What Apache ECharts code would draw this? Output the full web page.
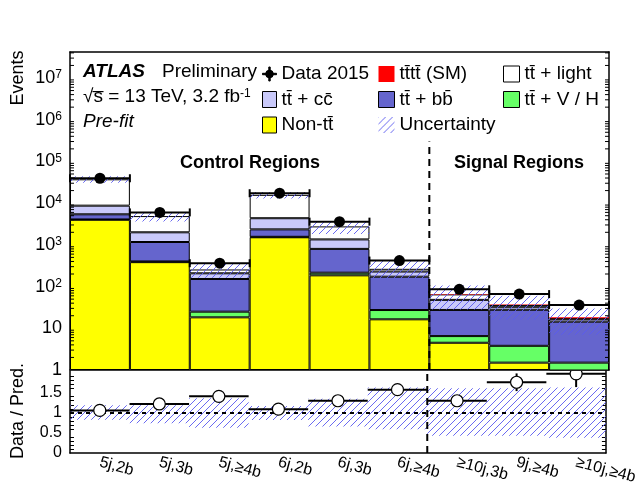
<!DOCTYPE html>
<html>
<head>
<meta charset="utf-8">
<script src="https://cdn.jsdelivr.net/npm/echarts@6/dist/echarts.min.js"></script>
<style>
  html, body { margin: 0; padding: 0; background: #fff; }
  #chart { width: 640px; height: 490px; }
</style>
</head>
<body>
<div id="chart"></div>
<script>
// Analysis regions (bins)
const regions = ['5j,2b', '5j,3b', '5j,≥4b', '6j,2b', '6j,3b', '6j,≥4b', '≥10j,3b', '9j,≥4b', '≥10j,≥4b'];

// Pre-fit background predictions per region (events)
const nonTT   = [4000, 385, 18.3, 1520, 186, 16.4, 4.5, 1.5, 0.4];
const ttVH    = [60, 15, 6.7, 40, 29, 11, 2.0, 2.3, 1.1];
const ttbb    = [1340, 770, 127, 790, 585, 145, 21, 24, 12.9];
const ttcc    = [3300, 830, 56, 2000, 550, 57, 20.5, 5, 2.1];
const ttlight = [28600, 2900, 49, 11450, 1420, 37, 17, 3.5, 1.0];
const tttt    = [0.3, 0.4, 0.5, 0.5, 0.7, 1.0, 1.0, 1.0, 0.8];

// Observed data and statistical uncertainty
const data2015 = [39500, 6000, 363, 17300, 3600, 420, 86, 66, 36];
const dataErr  = [199, 77, 19, 131, 60, 20.5, 9.3, 8.1, 6.0];

// Data / prediction ratio
const ratio    = [1.06, 1.22, 1.41, 1.09, 1.30, 1.575, 1.30, 1.76, 1.97];
const ratioErr = [0.005, 0.016, 0.074, 0.008, 0.022, 0.077, 0.14, 0.22, 0.33];

// Relative systematic uncertainty band on the prediction
const uncUp   = [1.19, 1.19, 1.36, 1.17, 1.35, 1.63, 1.61, 1.61, 1.63];
const uncDown = [0.83, 0.74, 0.63, 0.82, 0.66, 0.59, 0.43, 0.43, 0.38];

// Region boundary between control and signal regions (after this bin index)
const lastControlBin = 5;

const FONT = '"Liberation Sans", Arial, Helvetica, sans-serif';
const M = '\u0304'; // combining macron for anti-quarks

const N = {
  data: 'Data 2015',
  tttt: 'tt' + M + 'tt' + M + ' (SM)',
  light: 'tt' + M + ' + light',
  cc: 'tt' + M + ' + c' + 'c' + M,
  bb: 'tt' + M + ' + b' + 'b' + M,
  vh: 'tt' + M + ' + V / H',
  nontt: 'Non-tt' + M,
  unc: 'Uncertainty'
};

const predStack = [nonTT, ttVH, ttbb, ttcc, ttlight, tttt];
const total = regions.map((_, i) => predStack.reduce((s, a) => s + a[i], 0));

const mainMax = 4.2e7;
const ratioMax = 2.04;

// Log-axis minor tick positions (2..9 x 10^n)
const logMinorTicks = [];
for (let n = 0; n < 8; n++) {
  for (let k = 2; k <= 9; k++) {
    const v = k * Math.pow(10, n);
    if (v < mainMax) logMinorTicks.push(v);
  }
}

// Diagonal hatch fill for the uncertainty band
function hatch(color, step) {
  const c = document.createElement('canvas');
  c.width = c.height = step;
  const g = c.getContext('2d');
  g.strokeStyle = color;
  g.lineWidth = 1;
  g.beginPath();
  g.moveTo(0, step); g.lineTo(step, 0);
  g.moveTo(-1, 1); g.lineTo(1, -1);
  g.moveTo(step - 1, step + 1); g.lineTo(step + 1, step - 1);
  g.stroke();
  return { image: c, repeat: 'repeat' };
}
const hatchFill = hatch('rgba(90,90,240,0.9)', 7);

const chart = echarts.init(document.getElementById('chart'), null, { renderer: 'canvas' });

const barBase = {
  type: 'bar', stack: 'pred', xAxisIndex: 0, yAxisIndex: 0,
  barWidth: '100%', barCategoryGap: '0%', barGap: '0%', z: 2,
  emphasis: { disabled: true }, silent: true
};
function bar(name, values, color, borderWidth) {
  return Object.assign({}, barBase, {
    name: name, data: values,
    itemStyle: { color: color, borderColor: '#000', borderWidth: borderWidth }
  });
}

const logFormatter = v => {
  const e = Math.log10(v);
  const n = Math.round(e);
  if (Math.abs(e - n) > 1e-6) return '';
  if (n === 0) return '1';
  if (n === 1) return '10';
  return '{b|10}{e|' + n + '}';
};

const tickStyle = { color: '#000', width: 1 };

const option = {
  animation: false,
  backgroundColor: '#fff',
  textStyle: { fontFamily: FONT, color: '#000' },
  grid: [
    { left: 70, top: 52, width: 539, height: 318 },
    { left: 70, top: 371, width: 539, height: 82 }
  ],
  xAxis: [
    { type: 'category', gridIndex: 0, data: regions, position: 'bottom',
      axisLine: { lineStyle: { color: '#000', width: 1.5 } },
      axisTick: { inside: true, length: 6, lineStyle: tickStyle },
      axisLabel: { show: false }, splitLine: { show: false } },
    { type: 'category', gridIndex: 0, data: regions, position: 'top',
      axisLine: { lineStyle: { color: '#000', width: 1.5 } },
      axisTick: { inside: true, length: 6, lineStyle: tickStyle },
      axisLabel: { show: false }, splitLine: { show: false } },
    { type: 'category', gridIndex: 1, data: regions, position: 'bottom',
      axisLine: { lineStyle: { color: '#000', width: 1.5 } },
      axisTick: { inside: true, length: 6, lineStyle: tickStyle },
      axisLabel: { interval: 0, rotate: -15, fontSize: 16, fontFamily: FONT, color: '#000', margin: 9 },
      splitLine: { show: false } }
  ],
  yAxis: [
    { type: 'log', gridIndex: 0, min: 1, max: mainMax, logBase: 10, position: 'left',
      axisLine: { show: true, lineStyle: { color: '#000', width: 1.5 } },
      axisTick: { inside: true, length: 8, lineStyle: tickStyle },
      splitLine: { show: false },
      axisLabel: { formatter: logFormatter, fontSize: 18, fontFamily: FONT, color: '#000', margin: 8,
        showMaxLabel: false,
        rich: { b: { fontSize: 18, fontFamily: FONT, color: '#000' },
                e: { fontSize: 12, fontFamily: FONT, color: '#000', verticalAlign: 'top' } } } },
    { type: 'log', gridIndex: 0, min: 1, max: mainMax, logBase: 10, position: 'right',
      axisLine: { show: true, lineStyle: { color: '#000', width: 1.5 } },
      axisTick: { inside: true, length: 8, lineStyle: tickStyle },
      splitLine: { show: false }, axisLabel: { show: false } },
    { type: 'value', gridIndex: 1, min: 0, max: ratioMax, interval: 0.5, position: 'left',
      axisLine: { show: true, lineStyle: { color: '#000', width: 1.5 } },
      axisTick: { inside: true, length: 8, lineStyle: tickStyle },
      minorTick: { show: true, splitNumber: 5, length: 4, lineStyle: tickStyle },
      splitLine: { show: false },
      axisLabel: { fontSize: 16, fontFamily: FONT, color: '#000', margin: 8,
        formatter: v => (v > 1.9 ? '' : String(v)) } },
    { type: 'value', gridIndex: 1, min: 0, max: ratioMax, interval: 0.5, position: 'right',
      axisLine: { show: true, lineStyle: { color: '#000', width: 1.5 } },
      axisTick: { inside: true, length: 8, lineStyle: tickStyle },
      minorTick: { show: true, splitNumber: 5, length: 4, lineStyle: tickStyle },
      splitLine: { show: false }, axisLabel: { show: false } }
  ],
  legend: [
    { left: 262, top: 64, orient: 'vertical', padding: 0, itemWidth: 14, itemHeight: 16, itemGap: 5.5,
      selectedMode: false, icon: 'rect',
      itemStyle: { borderColor: '#000', borderWidth: 1 },
      textStyle: { fontSize: 19, fontFamily: FONT, color: '#000', lineHeight: 20 },
      data: [
        { name: N.data, icon: 'path://M0,9H20V11H0Z M9,0H11V20H9Z M4.5,10A5.5,5.5,0,1,1,15.5,10A5.5,5.5,0,1,1,4.5,10Z' },
        N.cc, N.nontt
      ] },
    { left: 378, top: 64, orient: 'vertical', padding: 0, itemWidth: 16, itemHeight: 16, itemGap: 5.5,
      selectedMode: false, icon: 'rect',
      itemStyle: { borderColor: '#000', borderWidth: 1 },
      textStyle: { fontSize: 19, fontFamily: FONT, color: '#000', lineHeight: 20 },
      data: [ { name: N.tttt, itemStyle: { borderWidth: 0 } }, N.bb, { name: N.unc, itemStyle: { borderWidth: 0 } } ] },
    { left: 503, top: 64, orient: 'vertical', padding: 0, itemWidth: 16, itemHeight: 16, itemGap: 5.5,
      selectedMode: false, icon: 'rect',
      itemStyle: { borderColor: '#000', borderWidth: 1 },
      textStyle: { fontSize: 19, fontFamily: FONT, color: '#000', lineHeight: 20 },
      data: [ N.light, N.vh ] }
  ],
  series: [
    bar(N.nontt, nonTT, '#ffff00', 1),
    bar(N.vh, ttVH, '#66ff66', 1),
    bar(N.bb, ttbb, '#6565cd', 1),
    bar(N.cc, ttcc, '#c9c9fa', 1),
    bar(N.light, ttlight, '#ffffff', 1),
    bar(N.tttt, tttt, '#ff0000', 0),
    // Systematic uncertainty band on the total prediction
    {
      type: 'custom', name: N.unc, xAxisIndex: 0, yAxisIndex: 0, z: 4, silent: true, clip: true,
      itemStyle: { color: hatchFill },
      data: regions.map((r, i) => [i, total[i] * uncDown[i], total[i] * uncUp[i]]),
      renderItem(params, api) {
        const i = api.value(0);
        const lo = api.coord([i, api.value(1)]);
        const hi = api.coord([i, api.value(2)]);
        const w = api.size([1, 1])[0];
        return { type: 'rect', shape: { x: lo[0] - w / 2, y: hi[1], width: w, height: lo[1] - hi[1] },
                 style: { fill: hatchFill, stroke: null } };
      }
    },
    // Observed data points
    {
      type: 'custom', name: N.data, xAxisIndex: 0, yAxisIndex: 0, z: 6, silent: true,
      itemStyle: { color: '#000' },
      data: regions.map((r, i) => [i, data2015[i], dataErr[i]]),
      renderItem(params, api) {
        const i = api.value(0), v = api.value(1), e = api.value(2);
        const p = api.coord([i, v]);
        const w = api.size([1, 1])[0];
        const up = api.coord([i, v + e]), dn = api.coord([i, v - e]);
        const s = { stroke: '#000', lineWidth: 2 };
        return { type: 'group', children: [
          { type: 'line', shape: { x1: p[0] - w / 2, y1: p[1], x2: p[0] + w / 2, y2: p[1] }, style: s },
          { type: 'line', shape: { x1: p[0] - w / 2, y1: p[1] - 4, x2: p[0] - w / 2, y2: p[1] + 4 }, style: s },
          { type: 'line', shape: { x1: p[0] + w / 2, y1: p[1] - 4, x2: p[0] + w / 2, y2: p[1] + 4 }, style: s },
          { type: 'line', shape: { x1: p[0], y1: up[1], x2: p[0], y2: dn[1] }, style: s },
          { type: 'circle', shape: { cx: p[0], cy: p[1], r: 5.5 }, style: { fill: '#000' } }
        ] };
      }
    },
    // Minor ticks of the logarithmic axis, on both sides of the frame
    {
      type: 'custom', xAxisIndex: 0, yAxisIndex: 0, z: 8, silent: true,
      data: logMinorTicks.map(v => [0, v]),
      renderItem(params, api) {
        const v = api.value(1);
        const w = api.size([1, 1])[0];
        const l = api.coord([0, v]);
        const r = api.coord([regions.length - 1, v]);
        const x0 = l[0] - w / 2, x1 = r[0] + w / 2;
        const s = { stroke: '#000', lineWidth: 1 };
        return { type: 'group', children: [
          { type: 'line', shape: { x1: x0, y1: l[1], x2: x0 + 4, y2: l[1] }, style: s },
          { type: 'line', shape: { x1: x1 - 4, y1: l[1], x2: x1, y2: l[1] }, style: s }
        ] };
      }
    },
    // Control / signal region divider, upper panel
    {
      type: 'custom', xAxisIndex: 0, yAxisIndex: 0, z: 7, silent: true,
      data: [[lastControlBin, 1, 3e5]],
      renderItem(params, api) {
        const w = api.size([1, 1])[0];
        const a = api.coord([api.value(0), api.value(1)]);
        const b = api.coord([api.value(0), api.value(2)]);
        return { type: 'line', shape: { x1: a[0] + w / 2, y1: a[1], x2: b[0] + w / 2, y2: b[1] },
                 style: { stroke: '#000', lineWidth: 2, lineDash: [7, 5] } };
      }
    },
    // Ratio panel: uncertainty band
    {
      type: 'custom', xAxisIndex: 2, yAxisIndex: 2, z: 3, silent: true, clip: true,
      data: regions.map((r, i) => [i, uncDown[i], uncUp[i]]),
      renderItem(params, api) {
        const i = api.value(0);
        const lo = api.coord([i, api.value(1)]);
        const hi = api.coord([i, api.value(2)]);
        const w = api.size([1, 1])[0];
        return { type: 'rect', shape: { x: lo[0] - w / 2, y: hi[1], width: w, height: lo[1] - hi[1] },
                 style: { fill: hatchFill, stroke: null } };
      }
    },
    // Ratio panel: data / prediction
    {
      type: 'custom', xAxisIndex: 2, yAxisIndex: 2, z: 6, silent: true, clip: true,
      data: regions.map((r, i) => [i, ratio[i], ratioErr[i]]),
      renderItem(params, api) {
        const i = api.value(0), v = api.value(1), e = api.value(2);
        const p = api.coord([i, v]);
        const w = api.size([1, 1])[0];
        const up = api.coord([i, v + e]), dn = api.coord([i, v - e]);
        const s = { stroke: '#000', lineWidth: 2 };
        return { type: 'group', children: [
          { type: 'line', shape: { x1: p[0] - w / 2, y1: p[1], x2: p[0] + w / 2, y2: p[1] }, style: s },
          { type: 'line', shape: { x1: p[0], y1: up[1], x2: p[0], y2: dn[1] }, style: s },
          { type: 'circle', shape: { cx: p[0], cy: p[1], r: 6 }, style: { fill: '#fff', stroke: '#000', lineWidth: 1.2 } }
        ] };
      },
      markLine: {
        silent: true, symbol: 'none', animation: false,
        label: { show: false },
        lineStyle: { color: '#000', width: 2, type: [4, 4] },
        data: [{ yAxis: 1 }]
      }
    },
    // Control / signal region divider, ratio panel
    {
      type: 'custom', xAxisIndex: 2, yAxisIndex: 2, z: 7, silent: true,
      data: [[lastControlBin, 0, ratioMax]],
      renderItem(params, api) {
        const w = api.size([1, 1])[0];
        const a = api.coord([api.value(0), api.value(1)]);
        const b = api.coord([api.value(0), api.value(2)]);
        return { type: 'line', shape: { x1: a[0] + w / 2, y1: a[1], x2: b[0] + w / 2, y2: b[1] },
                 style: { stroke: '#000', lineWidth: 2, lineDash: [7, 5] } };
      }
    }
  ],
  graphic: [
    { type: 'text', x: 83, y: 72, style: { text: 'ATLAS', font: 'italic bold 19px ' + FONT, fill: '#000', textAlign: 'left', textVerticalAlign: 'middle', align: 'left', verticalAlign: 'middle' } },
    { type: 'text', x: 162, y: 72, style: { text: 'Preliminary', font: '19px ' + FONT, fill: '#000', textAlign: 'left', textVerticalAlign: 'middle', align: 'left', verticalAlign: 'middle' } },
    { type: 'text', x: 83, y: 97, style: { text: '√s\u0305 = 13 TeV, 3.2 fb{sup|-1}', font: '19px ' + FONT, fill: '#000', textAlign: 'left', textVerticalAlign: 'middle', align: 'left', verticalAlign: 'middle',
        rich: { sup: { fontSize: 12, fontFamily: FONT, fill: '#000', verticalAlign: 'top' } } } },
    { type: 'text', x: 83, y: 122, style: { text: 'Pre-fit', font: 'italic 19px ' + FONT, fill: '#000', textAlign: 'left', textVerticalAlign: 'middle', align: 'left', verticalAlign: 'middle' } },
    { type: 'text', x: 250, y: 163, style: { text: 'Control Regions', font: 'bold 18px ' + FONT, fill: '#000', textAlign: 'center', textVerticalAlign: 'middle', align: 'center', verticalAlign: 'middle' } },
    { type: 'text', x: 519, y: 163, style: { text: 'Signal Regions', font: 'bold 18px ' + FONT, fill: '#000', textAlign: 'center', textVerticalAlign: 'middle', align: 'center', verticalAlign: 'middle' } },
    { type: 'text', x: 18, y: 78, rotation: Math.PI / 2, style: { text: 'Events', font: '18px ' + FONT, fill: '#000', textAlign: 'center', textVerticalAlign: 'middle', align: 'center', verticalAlign: 'middle' } },
    { type: 'text', x: 18, y: 411, rotation: Math.PI / 2, style: { text: 'Data / Pred.', font: '18px ' + FONT, fill: '#000', textAlign: 'center', textVerticalAlign: 'middle', align: 'center', verticalAlign: 'middle' } }
  ]
};

chart.setOption(option);
</script>
</body>
</html>
